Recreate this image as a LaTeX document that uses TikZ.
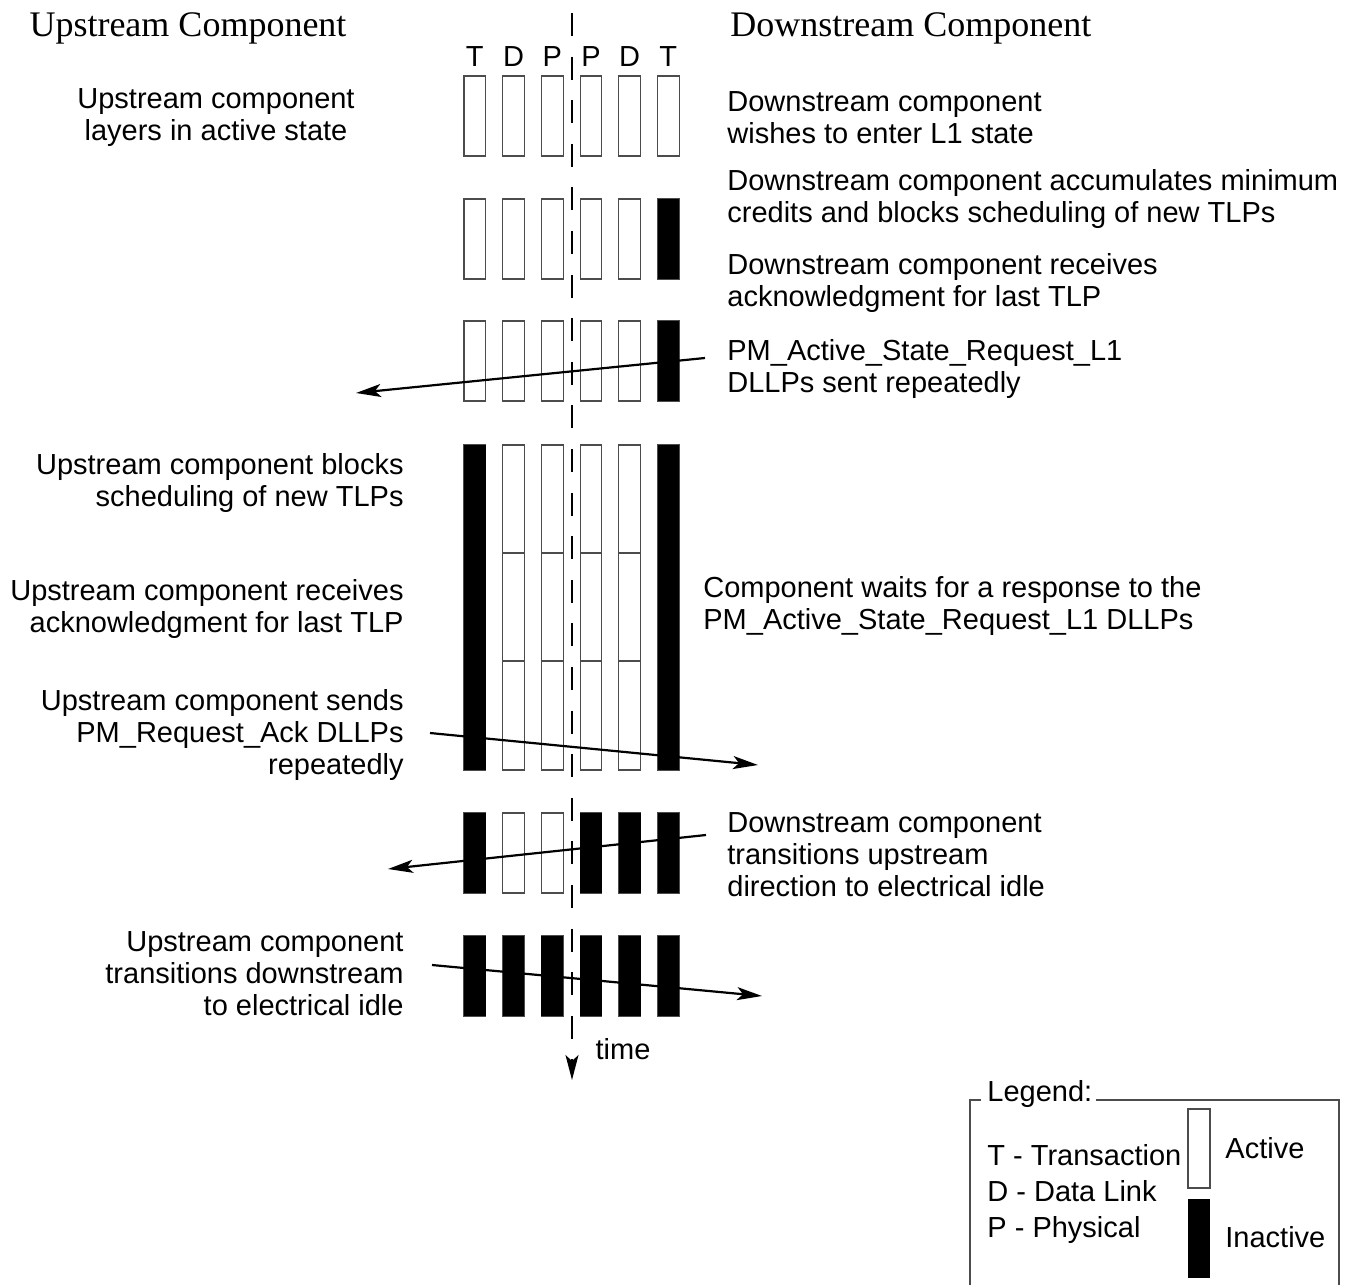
\documentclass[tikz,border=0pt]{standalone}
\usepackage{fontspec}
\setmainfont{Liberation Sans}
\newfontfamily\headfont{Liberation Serif}
\usetikzlibrary{arrows.meta}

\begin{document}
\begin{tikzpicture}[x=0.5pt,y=-0.5pt,>={Stealth[length=12.5pt,width=6.5pt,inset=3pt]},
  txt/.style={font=\fontsize{14.5}{16}\selectfont,inner sep=0pt},
  ltxt/.style={txt,anchor=east,align=right},
  rtxt/.style={txt,anchor=west,align=left},
  head/.style={font=\headfont\fontsize{18}{20}\selectfont,inner sep=0pt},
  actbar/.style={draw=black!70,fill=white,line width=0.6pt},
  inbar/.style={fill=black},
  msg/.style={->,line width=1.1pt}]
\useasboundingbox (0,0) rectangle (1346,1285);

% headings
\node[head] (uphead) at (188,28) {Upstream Component};
\node[head,anchor=west] (dnhead) at (730,28) {Downstream Component};

% layer letters
\foreach \l [count=\i from 0] in {T,D,P,P,D,T}
  \node[txt] (lay\i) at (474.85+38.7*\i,57) {\l};

% time axis
\coordinate (ttop) at (572,13);
\coordinate (tbot) at (572,1080);
\draw[->,line width=0.8pt,dash pattern=on 11.5pt off 10.3pt] (ttop) -- (tbot);
\node[txt] (time) at (623,1049) {time};

% layer bars
\foreach \y in {76,199,321,813,936}
  \foreach \i in {0,...,5}
    \draw[actbar] (464+38.7*\i,\y) rectangle ++(21.7,80);
\foreach \i in {0,...,5}
  \draw[actbar] (464+38.7*\i,445) rectangle ++(21.7,325);
\foreach \i in {1,...,4}
  \foreach \y in {553,661}
    \draw[actbar] (464+38.7*\i,\y) -- ++(21.7,0);
\foreach \i/\y/\h in {5/199/80,5/321/80,0/445/325,5/445/325,
    0/813/80,3/813/80,4/813/80,5/813/80,
    0/936/80,1/936/80,2/936/80,3/936/80,4/936/80,5/936/80}
  \fill[inbar] (464+38.7*\i,\y) rectangle ++(21.7,\h);

% upstream side
\node[txt,align=center] (lact) at (216,118) {Upstream component\\layers in active state};
\node[ltxt] (lblock) at (404,483) {Upstream component blocks\\scheduling of new TLPs};
\node[ltxt] (lrecv) at (404,609) {Upstream component receives\\acknowledgment for last TLP};
\node[ltxt] (lsend) at (404,735) {Upstream component sends\\PM\_Request\_Ack DLLPs\\repeatedly};
\node[ltxt] (ltrans) at (404,974) {Upstream component\\transitions downstream\\to electrical idle};

% downstream side
\node[rtxt] (dwish) at (727,118) {Downstream component\\wishes to enter L1 state};
\node[rtxt] (daccum) at (727,199) {Downstream component accumulates minimum\\credits and blocks scheduling of new TLPs};
\node[rtxt] (dack) at (727,283) {Downstream component receives\\acknowledgment for last TLP};
\node[rtxt] (dreq) at (727,369) {PM\_Active\_State\_Request\_L1\\DLLPs sent repeatedly};
\node[rtxt] (cwait) at (703,606) {Component waits for a response to the\\PM\_Active\_State\_Request\_L1 DLLPs};
\node[rtxt] (dtrans) at (727,855) {Downstream component\\transitions upstream\\direction to electrical idle};

% DLLP messages
\coordinate (reqs) at (705,358);
\coordinate (reqe) at (356,393);
\coordinate (acks) at (430,733);
\coordinate (acke) at (758,765);
\coordinate (idus) at (706,835);
\coordinate (idue) at (388,869);
\coordinate (idds) at (432,965);
\coordinate (idde) at (762,996);
\draw[msg] (reqs) -- (reqe);
\draw[msg] (acks) -- (acke);
\draw[msg] (idus) -- (idue);
\draw[msg] (idds) -- (idde);

% legend
\node[txt,anchor=west] (legtitle) at (987,1094) {Legend:};
\draw[draw=black!70,line width=0.6pt] (981,1100) -- (970,1100) -- (970,1285);
\draw[draw=black!70,line width=0.6pt] (1096,1100) -- (1339,1100) -- (1339,1285);
\node[txt,anchor=west,align=left,font=\fontsize{14.5}{18}\selectfont] (legkey) at (987,1194)
  {T - Transaction\\D - Data Link\\P - Physical};
\draw[actbar] (1188,1109) rectangle (1210,1188);
\fill[inbar] (1188,1199) rectangle (1210,1278);
\node[txt,anchor=west] (legact) at (1225,1148) {Active};
\node[txt,anchor=west] (leginact) at (1225,1237) {Inactive};
\end{tikzpicture}
\end{document}
